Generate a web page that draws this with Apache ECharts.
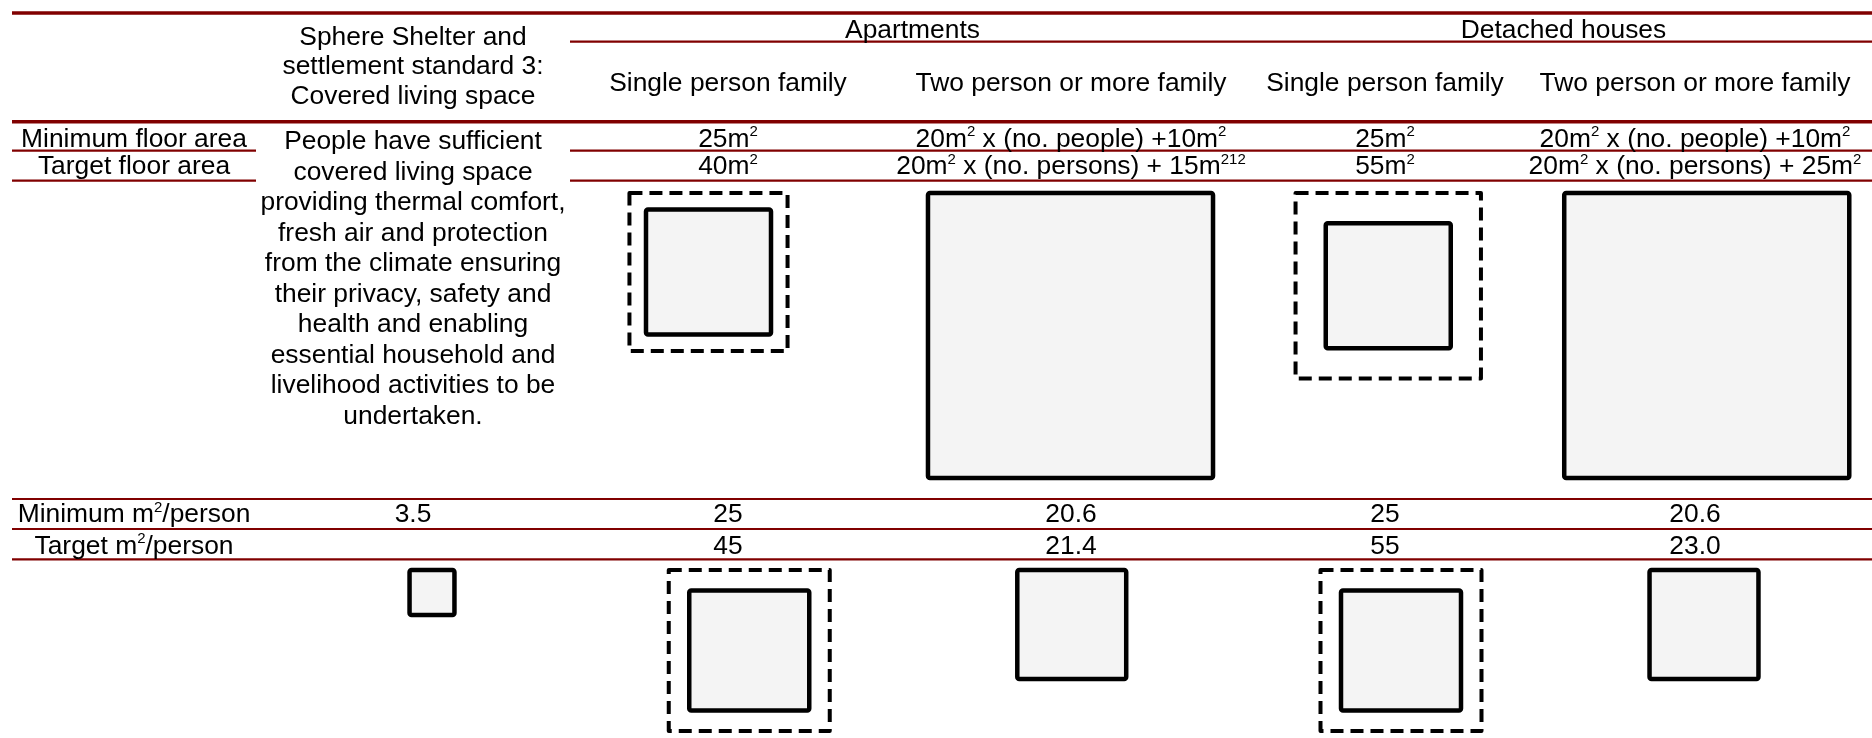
<!DOCTYPE html>
<html>
<head>
<meta charset="utf-8">
<script src="https://cdn.jsdelivr.net/npm/echarts@6/dist/echarts.min.js"></script>
<style>
html,body{margin:0;padding:0;background:#fff;overflow:hidden}
#c{width:1872px;height:738px}
</style>
</head>
<body>
<div id="c"></div>
<script>
// ---------------- data ----------------
const groups = ['Apartments', 'Detached houses'];
const familyTypes = ['Single person family', 'Two person or more family'];
const columns = ['Sphere standard', 'Apartments single', 'Apartments two+', 'Detached single', 'Detached two+'];
const standardTitle = ['Sphere Shelter and', 'settlement standard 3:', 'Covered living space'];
const standardText = ['People have sufficient', 'covered living space', 'providing thermal comfort,',
  'fresh air and protection', 'from the climate ensuring', 'their privacy, safety and',
  'health and enabling', 'essential household and', 'livelihood activities to be', 'undertaken.'];
const floorRowLabels = ['Minimum floor area', 'Target floor area'];
const personRowLabels = ['Minimum m²/person', 'Target m²/person'];
const minFloorArea = ['25m²', '20m² x (no. people) +10m²', '25m²', '20m² x (no. people) +10m²'];
const targetFloorArea = ['40m²', '20m² x (no. persons) + 15m²¹²', '55m²', '20m² x (no. persons) + 25m²'];
const minPerPerson = [3.5, 25, 20.6, 25, 20.6];
const targetPerPerson = [null, 45, 21.4, 55, 23.0];
const perPersonDecimals = [1, 0, 1, 0, 1];
// box areas in m2 as drawn in the figure (solid = minimum, dashed = target)
const floorBoxMin = [25, 130, 25, 130];
const floorBoxTarget = [40, null, 55, null];
const personBoxMin = [3.5, 25, 20.6, 25, 20.6];
const personBoxTarget = [null, 45, null, 45, null];

// ---------------- style / layout ----------------
const FONT = '"Liberation Sans", Arial, Helvetica, sans-serif';
const FS = 26.4;
const RED = '#800000';

const chart = echarts.init(document.getElementById('c'), null, {renderer: 'canvas'});

// grids: 0-2 table text columns, 3-7 box panels (y in metres = sqrt(m2))
const gridDefs = [
  {left: 300, width: 226, top: 0, height: 100, max: 1},        // 0 table: sphere column
  {left: 556.5, width: 686, top: 0, height: 100, max: 1},      // 1 table: apartments columns
  {left: 1230, width: 620, top: 0, height: 100, max: 1},       // 2 table: detached columns
  {left: 527.5, width: 724, top: 193, height: 300, max: 12},   // 3 upper apartments boxes
  {left: 1229, width: 637, top: 193, height: 300, max: 12},    // 4 upper detached boxes
  {left: 319, width: 226, top: 570, height: 175, max: 7},      // 5 lower sphere box
  {left: 588, width: 645, top: 570, height: 175, max: 7},      // 6 lower apartments boxes
  {left: 1249.5, width: 606, top: 570, height: 175, max: 7}    // 7 lower detached boxes
];
const gridCats = [
  [columns[0]],
  [columns[1], columns[2]],
  [columns[3], columns[4]],
  [columns[1], columns[2]],
  [columns[3], columns[4]],
  [columns[0]],
  [columns[1], columns[2]],
  [columns[3], columns[4]]
];
const boxData = {
  3: [0, 1].map(j => [j, floorBoxMin[j], floorBoxTarget[j]]),
  4: [0, 1].map(j => [j, floorBoxMin[2 + j], floorBoxTarget[2 + j]]),
  5: [[0, personBoxMin[0], personBoxTarget[0]]],
  6: [0, 1].map(j => [j, personBoxMin[1 + j], personBoxTarget[1 + j]]),
  7: [0, 1].map(j => [j, personBoxMin[3 + j], personBoxTarget[3 + j]])
};

function renderBoxes(params, api) {
  const c = api.value(0);
  const solid = api.value(1);
  const dashed = api.value(2);
  const p = api.coord([c, 0]);
  const sSide = api.size([0, Math.sqrt(solid)])[1];
  const hasD = !isNaN(dashed) && dashed > 0;
  const dSide = hasD ? api.size([0, Math.sqrt(dashed)])[1] : 0;
  const outer = Math.max(sSide, dSide);
  const cy = p[1] + outer / 2;
  const children = [];
  if (hasD) {
    children.push({type: 'rect',
      shape: {x: p[0] - dSide / 2, y: cy - dSide / 2, width: dSide, height: dSide},
      style: {fill: 'none', stroke: '#000', lineWidth: 4, lineDash: [13, 7], lineJoin: 'round'}});
  }
  children.push({type: 'rect',
    shape: {x: p[0] - sSide / 2, y: cy - sSide / 2, width: sSide, height: sSide, r: 2},
    style: {fill: '#f4f4f4', stroke: '#000', lineWidth: 4.5, lineJoin: 'round'}});
  return {type: 'group', children};
}

chart.setOption({
  animation: false,
  backgroundColor: '#fff',
  grid: gridDefs.map(g => ({left: g.left, width: g.width, top: g.top, height: g.height, containLabel: false})),
  xAxis: gridDefs.map((g, i) => ({type: 'category', gridIndex: i, data: gridCats[i], show: false, boundaryGap: true})),
  yAxis: gridDefs.map((g, i) => ({type: 'value', gridIndex: i, min: 0, max: g.max, inverse: true, show: false})),
  series: Object.keys(boxData).map(k => ({
    type: 'custom', xAxisIndex: +k, yAxisIndex: +k, silent: true,
    renderItem: renderBoxes, data: boxData[k]
  }))
});

// ---------------- table text & rules ----------------
function px(v) { return Array.isArray(v) ? v[0] : v; }
function colX(i) {
  const axis = i === 0 ? 0 : (i <= 2 ? 1 : 2);
  return px(chart.convertToPixel({xAxisIndex: axis}, columns[i]));
}
function toRich(s) {
  return s.replace(/[²¹]+/g, m => '{s|' + m.replace(/²/g, '2').replace(/¹/g, '1') + '}');
}
const richStyle = {s: {fontSize: 15, fontFamily: FONT, fill: '#000', verticalAlign: 'top', lineHeight: 8}};
function T(x, y, s, extra) {
  return {type: 'text', x: x, y: y, silent: true, z: 10,
    style: Object.assign({text: toRich(s), fill: '#000', fontSize: FS, fontFamily: FONT,
      align: 'center', verticalAlign: 'middle', lineHeight: 30, rich: richStyle}, extra || {})};
}
function L(x1, x2, y, w) {
  return {type: 'line', silent: true, z: 5, shape: {x1: x1, y1: y, x2: x2, y2: y},
    style: {stroke: RED, lineWidth: w}};
}

const W = 1872;
const labelX = 134;
const groupSpans = [[570, 1255], [1255, W]];
const yRow = {group: 30.8, family: 83.5, minFloor: 139.5, targetFloor: 167, minPerson: 515, targetPerson: 546.5};

const g = [];
// rules
g.push(L(12, W, 13, 3.6));
g.push(L(570, W, 41.7, 2.2));
g.push(L(12, W, 121.7, 3.6));
[150.7, 180.7].forEach(y => { g.push(L(12, 256, y, 2.2)); g.push(L(570, W, y, 2.2)); });
[499, 529, 559.3].forEach(y => g.push(L(12, W, y, 2.2)));

// headers
groups.forEach((name, k) => g.push(T((groupSpans[k][0] + groupSpans[k][1]) / 2, yRow.group, name)));
for (let i = 1; i <= 4; i++) g.push(T(colX(i), yRow.family, familyTypes[(i - 1) % 2]));
g.push(T(colX(0), 22.75, standardTitle.join('\n'), {verticalAlign: 'top', lineHeight: 29.5}));
g.push(T(colX(0), 126.4, standardText.join('\n'), {verticalAlign: 'top', lineHeight: 30.55}));

// floor area rows
g.push(T(labelX, yRow.minFloor, floorRowLabels[0]));
g.push(T(labelX, yRow.targetFloor, floorRowLabels[1]));
for (let i = 1; i <= 4; i++) {
  g.push(T(colX(i), yRow.minFloor, minFloorArea[i - 1]));
  g.push(T(colX(i), yRow.targetFloor, targetFloorArea[i - 1]));
}
// per-person rows
g.push(T(labelX, yRow.minPerson, personRowLabels[0]));
g.push(T(labelX, yRow.targetPerson, personRowLabels[1]));
for (let i = 0; i < 5; i++) {
  g.push(T(colX(i), yRow.minPerson, minPerPerson[i].toFixed(perPersonDecimals[i])));
  if (targetPerPerson[i] != null) g.push(T(colX(i), yRow.targetPerson, targetPerPerson[i].toFixed(perPersonDecimals[i])));
}

chart.setOption({graphic: {elements: g}});
</script>
</body>
</html>
